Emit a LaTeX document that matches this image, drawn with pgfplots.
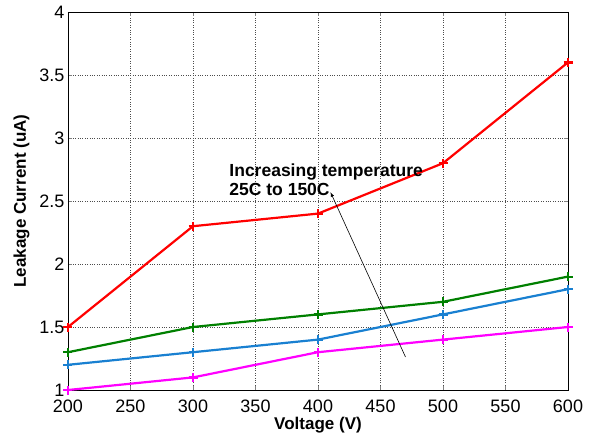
\documentclass[border=0pt]{standalone}
\usepackage{pgfplots}
\pgfplotsset{compat=1.18}
\usepackage{fontspec}
\setmainfont{Liberation Sans}
\definecolor{mgreen}{rgb}{0,0.5,0}
\definecolor{mblue}{rgb}{0.1,0.5,0.82}
\definecolor{mmag}{rgb}{1,0,1}
\definecolor{mred}{rgb}{1,0,0}
\begin{document}
\begin{tikzpicture}
\begin{axis}[
  name=ax,
  scale only axis,
  width=500pt, height=378pt,
  xmin=200, xmax=600, ymin=1, ymax=4,
  xtick={200,250,...,600},
  ytick={1,1.5,2,2.5,3,3.5,4},
  yticklabel style={/pgf/number format/fixed},
  xticklabel style={yshift=-6pt},
  /pgf/number format/assume math mode=true,
  tick label style={font=\fontsize{18}{20}\selectfont},
  label style={font=\bfseries\fontsize{17}{19}\selectfont},
  xlabel={Voltage (V)},
  ylabel={Leakage Current (uA)},
  xlabel style={yshift=2pt},
  ylabel style={yshift=3pt},
  grid=major,
  major grid style={black!70, dotted, line width=0.6pt},
  tick align=inside,
  major tick length=4pt,
  axis line style={line width=0.8pt},
  every axis plot/.append style={line width=2.2pt, mark=+, mark size=4.5pt, mark options={line width=2.2pt}},
]
\addplot[mred] coordinates {(200,1.5) (300,2.3) (400,2.4) (500,2.8) (600,3.6)};
\addplot[mgreen] coordinates {(200,1.3) (300,1.5) (400,1.6) (500,1.7) (600,1.9)};
\addplot[mblue] coordinates {(200,1.2) (300,1.3) (400,1.4) (500,1.6) (600,1.8)};
\addplot[mmag] coordinates {(200,1.0) (300,1.1) (400,1.3) (500,1.4) (600,1.5)};
\draw[-latex, line width=0.6pt] (axis cs:470,1.262) -- (axis cs:410,2.57);
\node[anchor=west, align=left, font=\bfseries\fontsize{17.5}{19}\selectfont, inner sep=0pt] at (axis cs:329,2.67) {Increasing temperature\\25C to 150C};
\end{axis}
\pgfresetboundingbox
\path (ax.south west) ++(-68pt,-55pt) rectangle ([shift={(23pt,12pt)}]ax.north east);
\end{tikzpicture}
\end{document}
